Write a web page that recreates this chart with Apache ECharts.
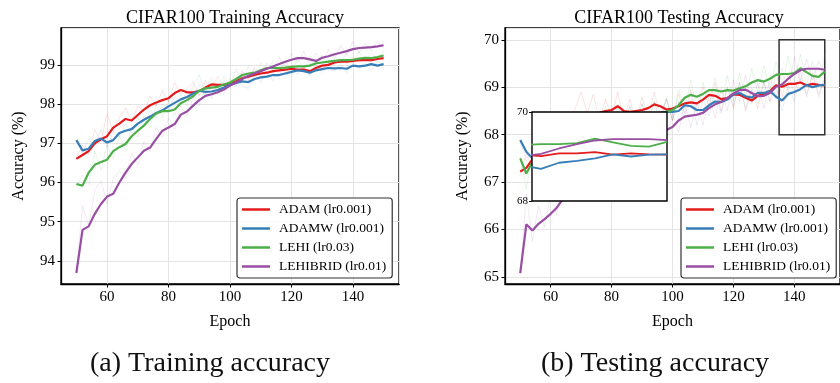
<!DOCTYPE html>
<html>
<head>
<meta charset="utf-8">
<script src="https://cdn.jsdelivr.net/npm/echarts@6/dist/echarts.min.js"></script>
<style>
  html, body { margin: 0; padding: 0; background: #fff; }
  #main { width: 840px; height: 383px; }
</style>
</head>
<body>
<div id="main"></div>
<script>
// epochs sampled every 2
const epochs = [50,52,54,56,58,60,62,64,66,68,70,72,74,76,78,80,82,84,86,88,90,92,94,96,98,100,
  102,104,106,108,110,112,114,116,118,120,122,124,126,128,130,132,134,136,138,140,142,144,146,148,150];

const names = ['ADAM (lr0.001)', 'ADAMW (lr0.001)', 'LEHI (lr0.03)', 'LEHIBRID (lr0.01)'];
const colors = ['#e41a1c', '#377eb8', '#4daf4a', '#984ea3'];

// training accuracy, smoothed
const trainAdam = [96.60,96.70,96.80,97.00,97.10,97.18,97.40,97.50,97.62,97.58,97.72,97.86,97.97,98.04,98.10,98.15,98.28,98.36,98.30,98.30,98.33,98.42,98.50,98.49,98.49,98.52,
  98.58,98.66,98.70,98.74,98.78,98.80,98.84,98.86,98.88,98.90,98.88,98.88,98.84,98.92,98.98,99.00,99.06,99.08,99.08,99.10,99.12,99.12,99.12,99.15,99.17];
const trainAdamw = [97.08,96.82,96.86,97.06,97.12,97.02,97.08,97.26,97.32,97.36,97.50,97.60,97.68,97.77,97.84,97.94,98.03,98.12,98.18,98.27,98.34,98.31,98.32,98.36,98.42,98.49,
  98.54,98.58,98.56,98.64,98.68,98.70,98.74,98.74,98.78,98.82,98.86,98.84,98.80,98.86,98.89,98.92,98.91,98.92,98.90,98.98,98.96,98.98,99.02,98.98,99.02];
const trainLehi = [95.96,95.92,96.25,96.45,96.52,96.58,96.80,96.90,96.98,97.18,97.32,97.45,97.62,97.76,97.82,97.82,97.86,98.02,98.10,98.20,98.34,98.40,98.42,98.44,98.50,98.55,
  98.64,98.74,98.78,98.80,98.86,98.92,98.92,98.92,98.93,98.95,98.96,98.96,98.98,99.04,99.06,99.08,99.10,99.12,99.12,99.13,99.16,99.18,99.17,99.20,99.24];
const trainHybrid = [93.69,94.79,94.88,95.20,95.45,95.64,95.71,96.00,96.25,96.47,96.64,96.81,96.89,97.11,97.32,97.40,97.49,97.73,97.81,97.96,98.10,98.21,98.25,98.30,98.37,98.47,
  98.55,98.64,98.72,98.78,98.84,98.90,98.96,99.02,99.08,99.13,99.17,99.17,99.14,99.10,99.18,99.22,99.27,99.31,99.35,99.40,99.43,99.44,99.45,99.47,99.50];

// training accuracy, raw (faint)
const trainAdamRaw = [96.62,96.95,96.70,97.35,97.05,97.75,97.30,97.65,97.90,97.55,97.95,97.80,98.20,97.95,98.35,98.05,98.55,98.25,98.40,98.55,98.20,98.60,98.40,98.70,98.45,98.60,
  98.50,98.80,98.65,98.90,98.70,98.95,98.78,98.95,98.80,99.00,98.82,98.95,98.75,99.05,98.90,99.10,99.00,99.15,99.02,99.20,99.05,99.20,99.08,99.22,99.15];
const trainAdamwRaw = [97.05,96.75,97.10,96.95,97.35,96.90,97.30,97.15,97.50,97.25,97.65,97.45,97.85,97.65,98.00,97.85,98.20,98.00,98.35,98.15,98.50,98.20,98.45,98.25,98.60,98.40,
  98.70,98.45,98.40,98.75,98.55,98.85,98.60,98.85,98.65,98.95,98.75,98.95,98.70,99.00,98.80,99.05,98.85,99.05,98.80,99.10,98.90,99.05,98.85,99.10,99.00];
const trainLehiRaw = [95.90,96.20,95.95,96.80,96.30,96.95,96.60,97.20,96.80,97.45,97.15,97.70,97.40,98.00,97.65,98.10,97.70,98.25,97.95,98.45,98.75,98.25,98.65,98.35,98.70,98.45,
  98.90,98.60,98.95,98.70,99.05,98.80,99.10,98.85,99.10,98.85,99.15,98.90,99.15,98.95,99.25,99.00,99.25,99.05,99.30,99.05,99.35,99.10,99.30,99.15,99.35];
const trainHybridRaw = [93.70,95.40,94.90,95.80,96.05,95.45,96.10,96.30,96.10,96.75,96.45,97.05,96.80,97.40,97.15,97.65,97.35,97.95,97.70,98.15,97.95,98.40,98.15,98.50,98.25,98.65,
  98.45,98.85,98.60,98.95,98.75,99.05,98.85,99.20,98.95,99.30,99.05,99.35,99.00,99.30,99.05,99.40,99.15,99.50,99.25,99.60,99.30,99.55,99.35,99.60,99.45];

// testing accuracy, smoothed
const testAdam = [67.22,67.30,67.48,67.60,67.72,67.84,67.94,68.02,68.12,68.22,68.32,68.38,68.42,68.46,68.50,68.52,68.60,68.50,68.48,68.50,68.52,68.56,68.64,68.60,68.53,68.55,
  68.60,68.66,68.68,68.66,68.74,68.84,68.82,68.75,68.77,68.85,68.84,68.78,68.72,68.82,68.86,68.92,69.04,69.01,69.07,69.07,69.10,69.04,69.07,69.05,69.04];
const testAdamw = [67.89,67.64,67.50,67.58,67.66,67.74,67.82,67.88,67.94,68.00,68.05,68.10,68.15,68.20,68.24,68.28,68.30,68.33,68.36,68.38,68.40,68.42,68.44,68.46,68.48,68.48,
  68.50,68.62,68.60,68.52,68.52,68.62,68.70,68.69,68.74,68.85,68.88,68.81,68.78,68.88,68.88,68.92,68.80,68.72,68.86,68.90,68.96,69.05,69.00,69.04,69.05];
const testLehi = [67.50,67.18,67.42,67.56,67.68,67.78,67.88,67.94,68.00,68.05,68.10,68.14,68.18,68.22,68.25,68.28,68.30,68.31,68.33,68.35,68.36,68.38,68.40,68.42,68.48,68.52,
  68.62,68.78,68.84,68.80,68.86,68.94,68.94,68.91,68.94,68.93,68.98,69.02,69.10,69.15,69.12,69.18,69.26,69.28,69.28,69.30,69.40,69.32,69.24,69.22,69.33];
const testHybrid = [65.08,66.11,65.98,66.12,66.22,66.33,66.46,66.64,66.82,66.98,67.12,67.26,67.38,67.48,67.58,67.66,67.74,67.80,67.86,67.92,67.96,68.00,68.04,68.06,68.10,68.16,
  68.30,68.38,68.40,68.42,68.46,68.56,68.64,68.69,68.77,68.87,68.94,68.95,68.88,68.81,68.82,68.88,69.01,69.06,69.18,69.28,69.36,69.39,69.39,69.39,69.37];

// testing accuracy, raw (faint)
const testAdamRaw = [67.20,67.60,67.30,67.85,67.55,68.10,67.75,68.30,67.95,68.55,68.90,68.45,68.85,68.30,68.75,68.35,68.90,68.30,68.75,68.25,68.80,68.35,68.90,68.40,68.75,68.30,
  68.85,68.45,68.95,68.40,69.00,68.60,69.10,68.50,69.00,68.55,69.10,68.50,68.95,68.55,69.10,68.70,69.30,68.80,69.30,68.85,69.35,68.80,69.30,68.85,69.20];
const testAdamwRaw = [67.85,67.45,67.70,67.35,67.90,67.50,68.05,67.70,68.20,67.85,68.30,67.90,68.45,68.00,68.50,68.10,68.55,68.15,68.60,68.20,68.65,68.25,68.70,68.25,68.75,68.30,
  68.70,68.35,68.85,68.20,68.75,68.40,68.95,68.45,69.00,68.60,69.10,68.55,69.00,68.65,69.10,68.70,69.00,68.50,69.05,68.70,69.20,68.85,69.25,68.80,69.20];
const testLehiRaw = [67.55,66.85,67.65,67.30,67.95,67.55,68.15,67.70,68.30,67.80,68.40,67.90,68.45,68.00,68.60,68.05,68.65,68.10,68.60,68.15,68.65,68.20,68.70,68.25,68.80,68.30,
  68.95,68.55,69.15,68.55,69.10,68.70,69.20,68.65,69.25,68.70,69.30,68.80,69.40,68.90,69.45,68.95,69.55,69.05,69.65,69.10,69.70,69.05,69.55,69.00,69.70];
const testHybridRaw = [65.05,66.75,65.75,66.50,66.05,66.75,66.30,67.05,66.60,67.35,66.90,67.60,67.15,67.80,67.35,67.95,67.50,68.10,67.60,68.20,67.70,68.30,67.80,68.35,67.85,68.45,
  68.05,68.65,68.15,68.70,68.20,68.85,68.35,69.00,68.50,69.15,68.70,69.25,68.65,69.10,68.55,69.20,68.75,69.40,68.90,69.65,69.10,69.60,69.15,69.55,69.20];

const zoomBox = [[135, 68], [150, 70]];

const chart = echarts.init(document.getElementById('main'), null, { renderer: 'canvas' });

const serif = 'Liberation Serif, Times New Roman, serif';
const pair = (arr) => epochs.map((e, i) => [e, arr[i]]);

const trainSmooth = [trainAdam, trainAdamw, trainLehi, trainHybrid];
const trainRaw = [trainAdamRaw, trainAdamwRaw, trainLehiRaw, trainHybridRaw];
const testSmooth = [testAdam, testAdamw, testLehi, testHybrid];
const testRaw = [testAdamRaw, testAdamwRaw, testLehiRaw, testHybridRaw];

function mainX(gridIndex) {
  return {
    type: 'value', gridIndex, min: 45, max: 155,
    name: 'Epoch', nameLocation: 'middle', nameGap: 30,
    nameTextStyle: { fontFamily: serif, fontSize: 16, color: '#000' },
    axisLine: { show: true, onZero: false, lineStyle: { color: '#000', width: 1.3 } },
    axisTick: { show: true, length: 3.5, lineStyle: { color: '#000' } },
    axisLabel: { fontFamily: serif, fontSize: 15, color: '#000', margin: 6, showMinLabel: false, showMaxLabel: false },
    splitLine: { show: true, lineStyle: { color: '#e4e4e4', width: 1 } }
  };
}
function mainY(gridIndex, min, max) {
  return {
    type: 'value', gridIndex, min, max,
    name: 'Accuracy (%)', nameLocation: 'middle', nameGap: 34,
    nameTextStyle: { fontFamily: serif, fontSize: 16, color: '#000' },
    axisLine: { show: true, onZero: false, lineStyle: { color: '#000', width: 1.3 } },
    axisTick: { show: true, length: 3.5, lineStyle: { color: '#000' } },
    axisLabel: { fontFamily: serif, fontSize: 15, color: '#000', margin: 6, showMinLabel: false, showMaxLabel: false },
    splitLine: { show: true, lineStyle: { color: '#e4e4e4', width: 1 } }
  };
}

const series = [];
[[trainRaw, trainSmooth, 0], [testRaw, testSmooth, 1]].forEach(([raw, smooth, g]) => {
  raw.forEach((arr, k) => series.push({
    type: 'line', name: 'raw' + k, xAxisIndex: g, yAxisIndex: g, data: pair(arr),
    symbol: 'none', silent: true, z: 1,
    lineStyle: { color: colors[k], width: 1, opacity: 0.12 }
  }));
  smooth.forEach((arr, k) => series.push({
    type: 'line', name: names[k], xAxisIndex: g, yAxisIndex: g, data: pair(arr),
    symbol: 'none', z: 2,
    itemStyle: { color: colors[k] },
    lineStyle: { color: colors[k], width: 2.2 }
  }));
});
// zoom rectangle on the testing plot
series.push({
  type: 'line', name: 'zoombox', xAxisIndex: 1, yAxisIndex: 1, data: [], symbol: 'none',
  markArea: {
    silent: true,
    itemStyle: { color: 'rgba(0,0,0,0)', borderColor: '#333', borderWidth: 1.5 },
    data: [[{ coord: zoomBox[0] }, { coord: zoomBox[1] }]]
  }
});
// inset
testSmooth.forEach((arr, k) => series.push({
  type: 'line', name: names[k], xAxisIndex: 2, yAxisIndex: 2, data: pair(arr),
  symbol: 'none', z: 12,
  itemStyle: { color: colors[k] },
  lineStyle: { color: colors[k], width: 1.8 }
}));

const legendBase = {
  orient: 'vertical', top: 198, data: names, icon: 'rect',
  itemWidth: 28, itemHeight: 2.5, itemGap: 4,
  padding: [4, 6, 4, 5],
  borderColor: '#333', borderWidth: 1.2, borderRadius: 3,
  backgroundColor: 'rgba(255,255,255,0.85)',
  textStyle: { fontFamily: serif, fontSize: 13.5, color: '#000', padding: [0, 0, 0, 4], lineHeight: 15 },
  selectedMode: false
};

chart.setOption({
  animation: false,
  backgroundColor: '#fff',
  title: [
    { text: 'CIFAR100 Training Accuracy', left: 230, top: 4, textAlign: 'center',
      textStyle: { fontFamily: serif, fontSize: 18, fontWeight: 'normal', color: '#000' } },
    { text: 'CIFAR100 Testing Accuracy', left: 674, top: 4, textAlign: 'center',
      textStyle: { fontFamily: serif, fontSize: 18, fontWeight: 'normal', color: '#000' } },
    { text: '(a) Training accuracy', left: 205, top: 345, textAlign: 'center',
      textStyle: { fontFamily: serif, fontSize: 28, fontWeight: 'normal', color: '#111' } },
    { text: '(b) Testing accuracy', left: 650, top: 345, textAlign: 'center',
      textStyle: { fontFamily: serif, fontSize: 28, fontWeight: 'normal', color: '#111' } }
  ],
  legend: [
    Object.assign({}, legendBase, { left: 237 }),
    Object.assign({}, legendBase, { left: 681 })
  ],
  grid: [
    { left: 61, top: 28, width: 338, height: 256, show: true, borderColor: '#000', borderWidth: 1.3 },
    { left: 505, top: 28, width: 338, height: 256, show: true, borderColor: '#000', borderWidth: 1.3 },
    { left: 532, top: 112, width: 135, height: 89, show: true, z: 10,
      backgroundColor: '#fff', borderColor: '#000', borderWidth: 1.4 }
  ],
  xAxis: [
    mainX(0), mainX(1),
    { type: 'value', gridIndex: 2, min: 135, max: 150, z: 11,
      axisLine: { show: false }, axisTick: { show: false }, axisLabel: { show: false }, splitLine: { show: false } }
  ],
  yAxis: [
    mainY(0, 93.41, 99.94), mainY(1, 64.85, 70.25),
    { type: 'value', gridIndex: 2, min: 68, max: 70, interval: 2, z: 11,
      axisLine: { show: false },
      axisTick: { show: true, length: 3, lineStyle: { color: '#000' } },
      axisLabel: { fontFamily: serif, fontSize: 11, color: '#000', margin: 4 },
      splitLine: { show: false } }
  ],
  series
});
</script>
</body>
</html>
